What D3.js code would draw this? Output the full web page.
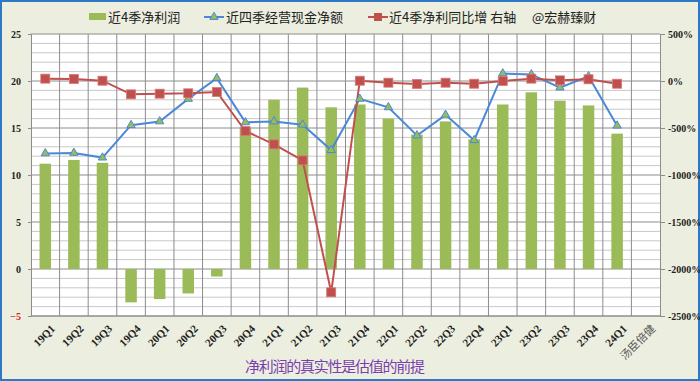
<!DOCTYPE html>
<html>
<head>
<meta charset="utf-8">
<script src="https://cdn.jsdelivr.net/npm/d3@7"></script>
<style>
  body { margin: 0; background: #fff; }
  svg { display: block; }
</style>
</head>
<body>
<script>
// data
const quarters = ["19Q1","19Q2","19Q3","19Q4","20Q1","20Q2","20Q3","20Q4","21Q1","21Q2","21Q3",
  "21Q4","22Q1","22Q2","22Q3","22Q4","23Q1","23Q2","23Q3","23Q4","24Q1","汤臣倍健"];
const profit4q = [11.2,11.6,11.3,-3.55,-3.2,-2.6,-0.8,15.1,18.0,19.3,17.2,17.5,16.0,14.3,15.7,13.8,17.5,18.8,17.9,17.4,14.4,null];
const cash4q = [12.3,12.35,11.85,15.3,15.7,18.1,20.3,15.6,15.7,15.35,12.65,18.1,17.2,14.2,16.4,13.7,20.8,20.7,19.3,20.5,15.25,null];
const growthPct = [25,21,3,-142,-135,-131,-117,-532,-674,-844,-2248,3,-18,-32,-18,-29,0,25,7,18,-29,null];
const leftTicks = [25,20,15,10,5,0,-5];
const rightTicks = [500,0,-500,-1000,-1500,-2000,-2500];

const W = 700, H = 381;
const margin = {top: 34, bottom: 65, left: 31, right: 40};
const width = W - margin.left - margin.right;
const height = H - margin.top - margin.bottom;

const svg = d3.select('body').append('svg')
  .attr('width', W).attr('height', H);

// frame
svg.append('rect').attr('x', 1).attr('y', 1).attr('width', W - 2).attr('height', H - 2)
  .attr('fill', '#ecefdf').attr('stroke', '#2f78c4').attr('stroke-width', 2);

const g = svg.append('g').attr('transform', `translate(${margin.left},${margin.top})`);

// scales
const x = d3.scaleBand().domain(quarters).range([0, width]);
const yL = d3.scaleLinear().domain([-5, 25]).range([height, 0]);
const yR = d3.scaleLinear().domain([-2500, 500]).range([height, 0]);

// plot background
g.append('rect').attr('width', width).attr('height', height).attr('fill', '#fff');

// minor grid every 1, major every 5
g.append('g').selectAll('line').data(d3.range(-5, 26).filter(v => v % 5 !== 0)).join('line')
  .attr('x1', 0).attr('x2', width)
  .attr('y1', d => yL(d)).attr('y2', d => yL(d))
  .attr('stroke', '#c8c8c8').attr('stroke-width', 1);
g.append('g').selectAll('line').data(leftTicks).join('line')
  .attr('x1', 0).attr('x2', width)
  .attr('y1', d => yL(d)).attr('y2', d => yL(d))
  .attr('stroke', '#8c8c8c').attr('stroke-width', 1);
// vertical grid at category boundaries
g.append('g').selectAll('line').data(quarters.slice(1)).join('line')
  .attr('x1', d => x(d)).attr('x2', d => x(d))
  .attr('y1', 0).attr('y2', height)
  .attr('stroke', '#8c8c8c').attr('stroke-width', 1);

// axes
const yAxisL = d3.axisLeft(yL).tickValues(leftTicks).tickSize(3).tickFormat(d3.format('d'));
const gL = g.append('g').call(yAxisL);
gL.select('.domain').attr('stroke', '#8c8c8c');
gL.selectAll('.tick line').attr('stroke', '#8c8c8c');
gL.selectAll('text')
  .attr('font-family', '"Liberation Serif", serif').attr('font-weight', 'bold').attr('font-size', 10)
  .attr('fill', d => d < 0 ? '#e02020' : '#222').attr('x', -10);

const yAxisR = d3.axisRight(yR).tickValues(rightTicks).tickSize(5).tickFormat(d => d + '%');
const gR = g.append('g').attr('transform', `translate(${width},0)`).call(yAxisR);
gR.select('.domain').attr('stroke', '#8c8c8c');
gR.selectAll('.tick line').attr('stroke', '#8c8c8c');
gR.selectAll('text')
  .attr('font-family', '"Liberation Serif", serif').attr('font-weight', 'bold').attr('font-size', 10)
  .attr('fill', '#222').attr('x', 8);

// x axis line + rotated labels
const isCJK = s => /[\u4e00-\u9fff]/.test(s);
g.append('line').attr('x1', 0).attr('x2', width).attr('y1', height).attr('y2', height)
  .attr('stroke', '#8c8c8c');
g.append('g').selectAll('text').data(quarters).join('text')
  .attr('transform', d => `translate(${x(d) + x.bandwidth() / 2 + 5},${height + 8}) rotate(-45)`)
  .attr('text-anchor', 'end')
  .attr('dy', '0.7em')
  .attr('font-family', d => isCJK(d) ? '"Noto Sans CJK SC", sans-serif' : '"Liberation Serif", serif')
  .attr('font-weight', d => isCJK(d) ? 'normal' : 'bold')
  .attr('font-size', 11).attr('fill', d => isCJK(d) ? '#555' : '#222')
  .text(d => d);

// bars
const barW = 11.5;
g.append('g').selectAll('rect').data(quarters.map((q, i) => ({q, v: profit4q[i]})).filter(d => d.v != null))
  .join('rect')
  .attr('x', d => x(d.q) + x.bandwidth() / 2 - barW / 2)
  .attr('width', barW)
  .attr('y', d => yL(Math.max(0, d.v)))
  .attr('height', d => Math.abs(yL(d.v) - yL(0)))
  .attr('fill', '#9bbb59');

// blue line
const cashPts = quarters.map((q, i) => ({q, v: cash4q[i]})).filter(d => d.v != null);
const lineL = d3.line().x(d => x(d.q) + x.bandwidth() / 2).y(d => yL(d.v));
g.append('path').datum(cashPts).attr('d', lineL)
  .attr('fill', 'none').attr('stroke', '#4a88d8').attr('stroke-width', 2);

// red line
const growPts = quarters.map((q, i) => ({q, v: growthPct[i]})).filter(d => d.v != null);
const lineR = d3.line().x(d => x(d.q) + x.bandwidth() / 2).y(d => yR(d.v));
g.append('path').datum(growPts).attr('d', lineR)
  .attr('fill', 'none').attr('stroke', '#c0504d').attr('stroke-width', 2);

// markers
const tri = d3.symbol().type(d3.symbolTriangle).size(30);
g.append('g').selectAll('path').data(cashPts).join('path')
  .attr('transform', d => `translate(${x(d.q) + x.bandwidth() / 2},${yL(d.v)})`)
  .attr('d', tri).attr('fill', '#9bbb59').attr('stroke', '#4a88d8').attr('stroke-width', 1);
g.append('g').selectAll('rect').data(growPts).join('rect')
  .attr('x', d => x(d.q) + x.bandwidth() / 2 - 4.5)
  .attr('y', d => yR(d.v) - 4.5)
  .attr('width', 9).attr('height', 9)
  .attr('fill', '#c0504d').attr('stroke', '#d77a77').attr('stroke-width', 0.8);

// legend
const legend = svg.append('g')
  .attr('font-family', '"Noto Sans CJK SC", sans-serif').attr('font-size', 13)
  .attr('fill', '#222');
legend.append('rect').attr('x', 89).attr('y', 13).attr('width', 17).attr('height', 7).attr('fill', '#9bbb59');
legend.append('text').attr('x', 108).attr('y', 22).text('近4季净利润');
legend.append('line').attr('x1', 204).attr('x2', 224).attr('y1', 17).attr('y2', 17)
  .attr('stroke', '#4a88d8').attr('stroke-width', 2);
legend.append('path').attr('transform', 'translate(214,17)').attr('d', tri)
  .attr('fill', '#9bbb59').attr('stroke', '#4a88d8');
legend.append('text').attr('x', 226).attr('y', 22).text('近四季经营现金净额');
legend.append('line').attr('x1', 368).attr('x2', 388).attr('y1', 17).attr('y2', 17)
  .attr('stroke', '#c0504d').attr('stroke-width', 2);
legend.append('rect').attr('x', 374).attr('y', 13).attr('width', 8).attr('height', 8).attr('fill', '#c0504d');
legend.append('text').attr('x', 389).attr('y', 22).text('近4季净利同比增 右轴');
legend.append('text').attr('x', 532).attr('y', 22).text('@宏赫臻财');

// bottom caption
svg.append('text').attr('x', 335).attr('y', 372).attr('text-anchor', 'middle')
  .attr('font-family', '"Noto Sans CJK SC", sans-serif').attr('font-size', 15)
  .attr('textLength', 180)
  .attr('fill', '#7a3fae').text('净利润的真实性是估值的前提');
</script>
</body>
</html>
